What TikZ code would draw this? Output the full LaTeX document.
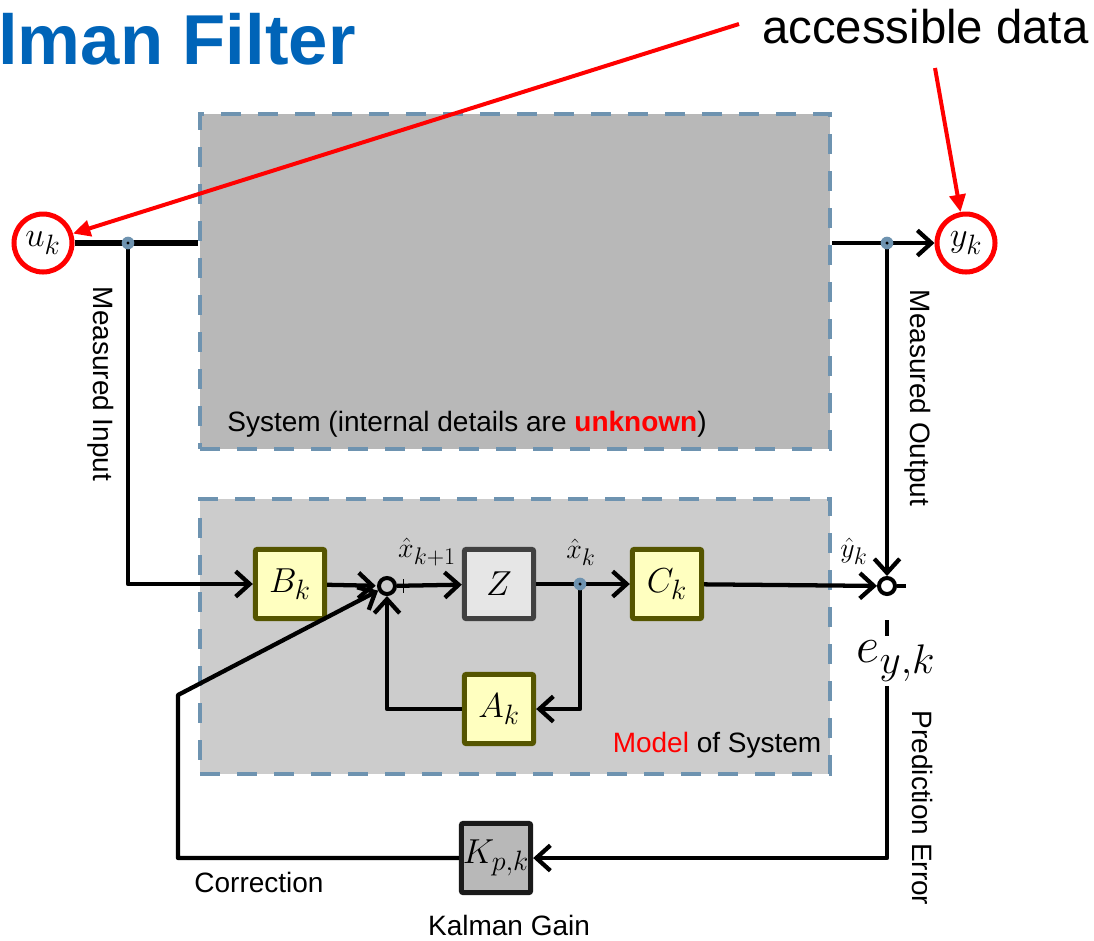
\RequirePackage{fix-cm}
\documentclass[tikz,border=0pt]{standalone}
\usepackage[no-math]{fontspec}
\setmainfont{Liberation Sans}
\usetikzlibrary{arrows.meta}

% larger sub- and superscripts for the big formula labels
\DeclareMathSizes{26}{26}{21}{17}
\DeclareMathSizes{21}{21}{18}{14}
\DeclareMathSizes{38}{38}{31}{24}

\definecolor{sysgray}{HTML}{B8B8B8}
\definecolor{modgray}{HTML}{CCCCCC}
\definecolor{dashblue}{HTML}{6E93B0}
\definecolor{blkyellow}{HTML}{FFFFC0}
\definecolor{blkolive}{HTML}{555500}
\definecolor{zfill}{HTML}{E6E6E6}
\definecolor{zborder}{HTML}{404040}
\definecolor{kborder}{HTML}{1A1A1A}
\definecolor{titleblue}{HTML}{0064B8}
\definecolor{hotred}{HTML}{FF0000}

\tikzset{
  region/.style={draw=dashblue, line width=3pt, dash pattern=on 15pt off 12.75pt,
    inner sep=0pt, anchor=north west},
  lbl/.style={inner sep=0pt, font=\fontsize{21}{25}\selectfont},
  blk/.style={draw=blkolive, fill=blkyellow, line width=3.75pt, minimum size=52pt,
    inner sep=0pt, rounded corners=1.5pt, font=\fontsize{26}{28}\selectfont},
  sig/.style={circle, draw=hotred, line width=3.75pt, minimum size=43.5pt,
    inner sep=0pt, font=\fontsize{26}{28}\selectfont},
  sumpt/.style={circle, draw=black, line width=3pt, minimum size=12pt, inner sep=0pt},
  tap/.style={circle, fill=dashblue, minimum size=9.5pt, inner sep=0pt,
    path picture={\fill[black] (path picture bounding box.center) circle (1.3pt);}},
  conn/.style={line width=3.2pt, line join=round,
    -{Straight Barb[length=10.5pt,width=19pt]}},
  wire/.style={line width=3.2pt, line join=round},
  callout/.style={draw=hotred, line width=3pt, -{Triangle[length=13pt,width=12pt]}},
  mathlbl/.style={inner sep=0pt, font=\fontsize{21}{23}\selectfont}
}

\begin{document}
\begin{tikzpicture}[x=0.75pt, y=-0.75pt]
\useasboundingbox (0,0) rectangle (1094,940);

% the two regions: the real system and its model
\node[region, fill=sysgray, minimum width=472.5pt, minimum height=251.25pt] (sys) at (198,112) {};
\node[region, fill=modgray, minimum width=472.5pt, minimum height=206.25pt] (mod) at (198,497) {};
\node[lbl] (systxt) at (467,424) {System (internal details are \textcolor{hotred}{\bfseries unknown})};
\node[lbl] (modtxt) at (717,745) {\textcolor{hotred}{Model} of System};

% headings
\node[anchor=base west, inner sep=0pt, text=titleblue,
  font=\fontsize{53}{60}\selectfont\bfseries] (title) at (-2,64) {lman Filter};
\node[anchor=base west, inner sep=0pt, font=\fontsize{35.5}{40}\selectfont]
  (acc) at (762,43) {accessible data};

% measured signals
\node[sig] (uk) at (43,243) {$u_k$};
\node[sig] (yk) at (966,243) {$y_k$};

% model blocks
\node[blk] (B) at (290,584) {$B_k$};
\node[blk, fill=zfill, draw=zborder] (Z) at (499,584) {$Z$};
\node[blk] (C) at (667,584) {$C_k$};
\node[blk] (A) at (499,709) {$A_k$};
\node[blk, fill=sysgray, draw=kborder] (K) at (496,858) {$K_{p,k}$};

% summing points and taps
\node[sumpt] (s1) at (387,586) {};
\node[sumpt] (s2) at (887,586) {};
\coordinate (ju) at (128,243);
\coordinate (jy) at (887,243);
\coordinate (jx) at (580,584);
\coordinate (cr) at (178,695);

% signal labels
\node[mathlbl] (xk1) at (427,552) {$\hat{x}_{k+1}$};
\node[mathlbl] (xk) at (581,552) {$\hat{x}_{k}$};
\node[mathlbl] (yh) at (854,551) {$\hat{y}_{k}$};
\node[inner sep=3pt, font=\fontsize{38}{40}\selectfont] (ey) at (896,661) {$e_{y,k}$};

% connectors
\draw[wire, line width=4.8pt] (uk.east) -- (uk -| sys.west);
\draw[conn] (sys.east |- yk) -- (yk);
\draw[conn] (ju) |- (B);
\draw[conn] (jy) -- (s2);
\draw[conn, shorten >=1pt] (B) -- (s1);
\draw[conn] (s1) -- (Z);
\draw[line width=1.2pt] ([xshift=5pt]s1.east) ++(0,-7) -- ++(0,14);
\draw[conn] (Z) -- (C);
\draw[conn] (jx) |- (A);
\draw[conn] (A) -| (s1);
\draw[conn] (C) -- (s2);
\draw[wire] (s2.east) -- ++(9,0);
\draw[wire, shorten <=18pt] (s2) -- (s2 |- ey.north);
\draw[conn] (s2 |- ey.south) |- (K);
\draw[conn] (K) -| (cr) -- (s1);

% taps drawn on top of the wires
\node[tap] (tu) at (ju) {};
\node[tap] (ty) at (jy) {};
\node[tap] (tx) at (jx) {};

% side labels
\node[lbl, rotate=-90] (min) at (101,384) {Measured Input};
\node[lbl, rotate=-90] (mout) at (918,398) {Measured Output};
\node[lbl, rotate=-90] (perr) at (922,808) {Prediction Error};
\node[lbl] (corr) at (259,882) {Correction};
\node[lbl] (kg) at (509,925) {Kalman Gain};

% call-outs to the accessible data
\coordinate (ca) at (739,24);
\coordinate (cb) at (935,68);
\draw[callout] (ca) -- (uk);
\draw[callout] (cb) -- (yk);
\end{tikzpicture}
\end{document}
